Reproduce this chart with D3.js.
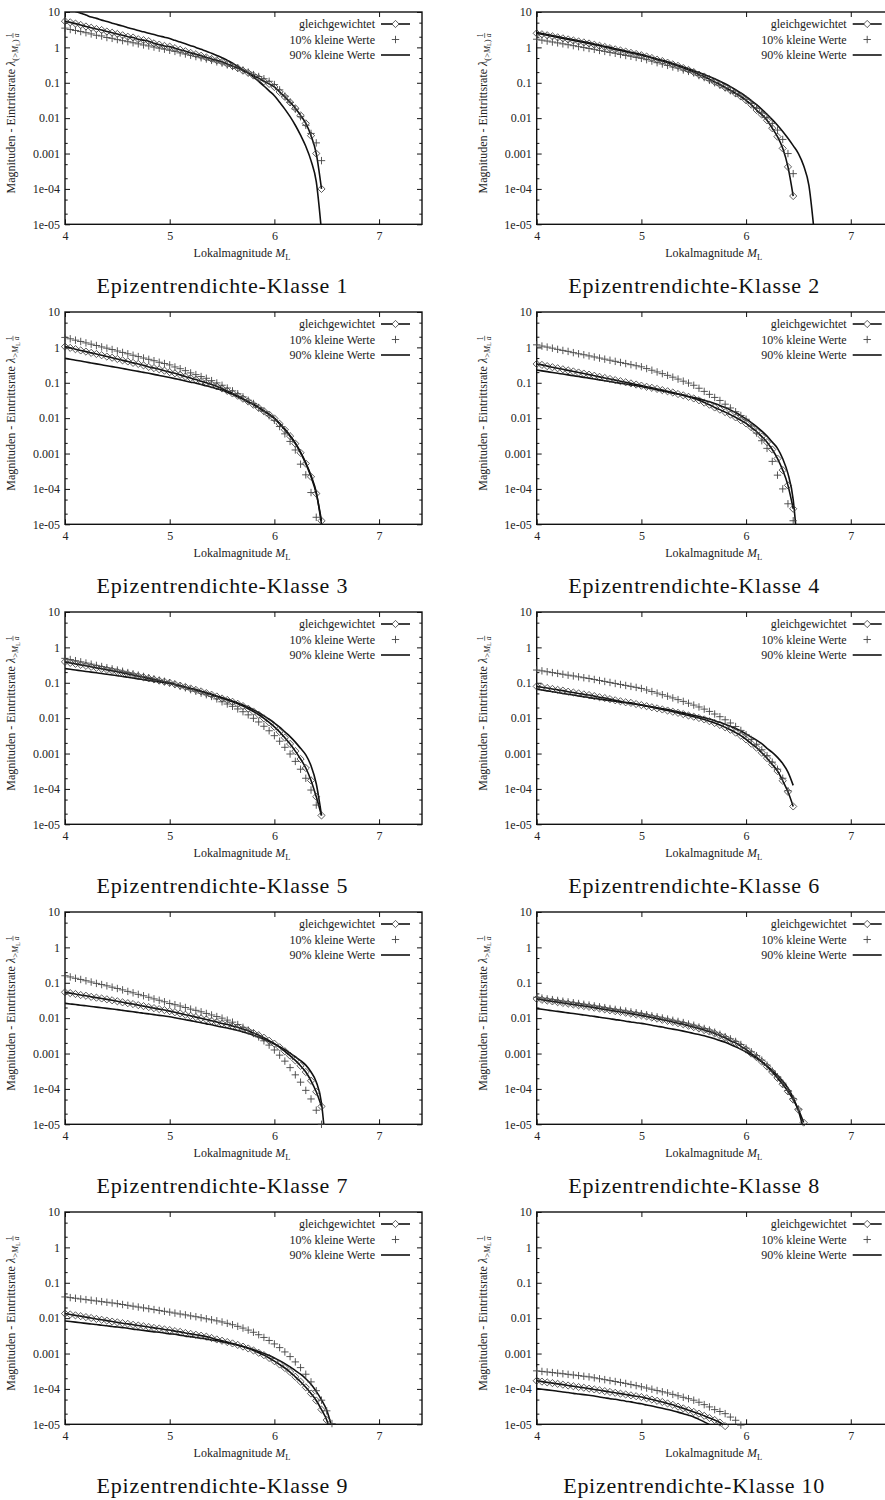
<!DOCTYPE html>
<html>
<head>
<meta charset="utf-8">
<script src="https://cdn.jsdelivr.net/npm/d3@7"></script>
<style>
  body { margin: 0; background: #fff; }
  svg { display: block; font-family: "Liberation Serif", "Times New Roman", serif; }
</style>
</head>
<body>
<svg id="chart" width="885" height="1500"></svg>
<script>
// Lokalmagnitude grid shared by all curves
const magnitudes = [4.00, 4.05, 4.10, 4.15, 4.20, 4.25, 4.30, 4.35, 4.40, 4.45,
  4.50, 4.55, 4.60, 4.65, 4.70, 4.75, 4.80, 4.85, 4.90, 4.95,
  5.00, 5.05, 5.10, 5.15, 5.20, 5.25, 5.30, 5.35, 5.40, 5.45,
  5.50, 5.55, 5.60, 5.65, 5.70, 5.75, 5.80, 5.85, 5.90, 5.95,
  6.00, 6.05, 6.10, 6.15, 6.20, 6.25, 6.30, 6.35, 6.40, 6.45,
  6.50, 6.55, 6.60, 6.65];

const seriesNames = ["gleichgewichtet", "10% kleine Werte", "90% kleine Werte"];
const xTicks = [4, 5, 6, 7];
const yTicks = [1e-5, 1e-4, 1e-3, 1e-2, 1e-1, 1, 10];
const yTickLabels = ["1e-05", "1e-04", "0.001", "0.01", "0.1", "1", "10"];
const yMinorFactors = [2, 5];

// Eintrittsrate per klasse
const k1Gleich = [5.5, 5.1, 4.7, 4.3, 3.9, 3.6, 3.3, 3.1, 2.8, 2.6, 2.4, 2.2, 2.0, 1.9, 1.7, 1.6, 1.5, 1.3, 1.2, 1.1,
  1.05, 0.95, 0.86, 0.78, 0.7, 0.64, 0.58, 0.52, 0.47, 0.43, 0.39, 0.34, 0.3, 0.26, 0.22, 0.19, 0.16, 0.135, 0.11, 0.093,
  0.076, 0.055, 0.04, 0.028, 0.019, 0.012, 0.0071, 0.0032, 0.001, 0.0001];
const k1Klein10 = [3.5, 3.2, 3.0, 2.8, 2.6, 2.4, 2.2, 2.1, 1.9, 1.8, 1.66, 1.55, 1.45, 1.35, 1.26, 1.17, 1.1, 1.02, 0.95, 0.89,
  0.83, 0.77, 0.7, 0.65, 0.6, 0.55, 0.51, 0.47, 0.43, 0.39, 0.36, 0.32, 0.29, 0.26, 0.23, 0.2, 0.17, 0.15, 0.13, 0.11,
  0.089, 0.063, 0.042, 0.028, 0.018, 0.011, 0.0063, 0.0037, 0.002, 0.00063];
const k1Klein90 = [13, 11.7, 10.4, 9.2, 8.2, 7.2, 6.6, 5.9, 5.4, 4.8, 4.4, 4.0, 3.6, 3.3, 3.0, 2.75, 2.5, 2.3, 2.1, 1.94,
  1.78, 1.58, 1.41, 1.26, 1.12, 1.0, 0.88, 0.78, 0.68, 0.59, 0.51, 0.43, 0.36, 0.29, 0.23, 0.19, 0.145, 0.11, 0.081, 0.059,
  0.043, 0.028, 0.018, 0.011, 0.0063, 0.0033, 0.0016, 0.00063, 0.00016, 6.3e-6];

const k2Gleich = [2.5, 2.35, 2.2, 2.06, 1.92, 1.8, 1.68, 1.57, 1.47, 1.38, 1.29, 1.19, 1.11, 1.03, 0.95, 0.88, 0.82, 0.76, 0.7, 0.65,
  0.6, 0.55, 0.5, 0.45, 0.41, 0.37, 0.33, 0.3, 0.26, 0.23, 0.2, 0.17, 0.15, 0.126, 0.106, 0.089, 0.074, 0.062, 0.05, 0.041,
  0.032, 0.024, 0.017, 0.0126, 0.0087, 0.0052, 0.003, 0.0014, 0.00042, 6.3e-5];
const k2Klein10 = [1.7, 1.6, 1.51, 1.42, 1.34, 1.26, 1.19, 1.12, 1.05, 0.99, 0.93, 0.88, 0.82, 0.77, 0.72, 0.68, 0.63, 0.59, 0.56, 0.52,
  0.49, 0.45, 0.41, 0.37, 0.34, 0.31, 0.28, 0.26, 0.23, 0.21, 0.19, 0.16, 0.14, 0.117, 0.1, 0.085, 0.072, 0.06, 0.05, 0.042,
  0.034, 0.026, 0.019, 0.014, 0.0105, 0.0071, 0.0046, 0.0025, 0.001, 0.00027];
const k2Klein90 = [2.63, 2.46, 2.3, 2.15, 2.01, 1.88, 1.76, 1.65, 1.54, 1.44, 1.35, 1.25, 1.16, 1.07, 1.0, 0.92, 0.86, 0.79, 0.73, 0.68,
  0.63, 0.57, 0.52, 0.47, 0.43, 0.39, 0.35, 0.31, 0.28, 0.25, 0.22, 0.195, 0.172, 0.15, 0.13, 0.111, 0.0935, 0.0778, 0.0637, 0.0513,
  0.0406, 0.0315, 0.024, 0.0178, 0.0129, 0.0091, 0.0063, 0.0042, 0.0027, 0.00167, 0.001, 0.00045, 0.000126, 6.3e-6];

const k3Gleich = [1.05, 0.97, 0.89, 0.82, 0.76, 0.7, 0.65, 0.6, 0.55, 0.51, 0.47, 0.43, 0.4, 0.365, 0.34, 0.31, 0.28, 0.26, 0.24, 0.22,
  0.2, 0.185, 0.167, 0.15, 0.136, 0.123, 0.11, 0.1, 0.089, 0.079, 0.069, 0.059, 0.05, 0.043, 0.0355, 0.0295, 0.024, 0.0195, 0.0158, 0.0126,
  0.0098, 0.0069, 0.0047, 0.0031, 0.0019, 0.00105, 0.00052, 0.00022, 7.4e-5, 1.26e-5];
const k3Klein10 = [1.91, 1.75, 1.6, 1.47, 1.34, 1.23, 1.13, 1.03, 0.95, 0.87, 0.79, 0.72, 0.66, 0.6, 0.55, 0.5, 0.46, 0.42, 0.38, 0.35,
  0.32, 0.28, 0.25, 0.22, 0.19, 0.17, 0.15, 0.134, 0.115, 0.099, 0.085, 0.071, 0.059, 0.049, 0.04, 0.032, 0.026, 0.02, 0.0155, 0.0117,
  0.0087, 0.0058, 0.0036, 0.0022, 0.00126, 0.0005, 0.00025, 7.9e-5, 1.58e-5];
const k3Klein90 = [0.49, 0.46, 0.435, 0.41, 0.385, 0.363, 0.342, 0.322, 0.303, 0.286, 0.269, 0.253, 0.238, 0.223, 0.21, 0.197, 0.185, 0.173, 0.161, 0.151,
  0.141, 0.131, 0.121, 0.112, 0.104, 0.097, 0.089, 0.082, 0.075, 0.068, 0.062, 0.054, 0.047, 0.04, 0.034, 0.028, 0.025, 0.02, 0.0162, 0.013,
  0.0101, 0.0071, 0.0049, 0.0032, 0.002, 0.0011, 0.00055, 0.00024, 8e-5, 1e-5];

const k4Gleich = [0.34, 0.32, 0.295, 0.275, 0.257, 0.24, 0.224, 0.209, 0.195, 0.182, 0.17, 0.158, 0.147, 0.137, 0.128, 0.119, 0.111, 0.103, 0.096, 0.089,
  0.083, 0.077, 0.072, 0.067, 0.062, 0.0575, 0.053, 0.048, 0.044, 0.04, 0.036, 0.032, 0.0275, 0.024, 0.02, 0.0174, 0.0148, 0.0126, 0.0105, 0.0087,
  0.0071, 0.0055, 0.0042, 0.003, 0.0021, 0.0013, 0.00072, 0.00034, 0.000126, 2.75e-5];
const k4Klein10 = [1.18, 1.09, 1.02, 0.95, 0.88, 0.82, 0.77, 0.71, 0.66, 0.62, 0.575, 0.536, 0.5, 0.465, 0.433, 0.403, 0.375, 0.349, 0.325, 0.303,
  0.282, 0.252, 0.226, 0.202, 0.181, 0.162, 0.144, 0.127, 0.111, 0.098, 0.085, 0.07, 0.057, 0.047, 0.0385, 0.0316, 0.0248, 0.0194, 0.0152, 0.0119,
  0.0093, 0.006, 0.0038, 0.0023, 0.0014, 0.0006, 0.000245, 0.0001, 3.8e-5, 1.26e-5];
const k4Klein90 = [0.229, 0.217, 0.206, 0.195, 0.185, 0.176, 0.167, 0.158, 0.15, 0.142, 0.135, 0.128, 0.121, 0.114, 0.108, 0.102, 0.097, 0.092, 0.087, 0.082,
  0.078, 0.072, 0.068, 0.063, 0.059, 0.055, 0.051, 0.048, 0.045, 0.041, 0.038, 0.0351, 0.032, 0.029, 0.0259, 0.0229, 0.0199, 0.0171, 0.0144, 0.0118,
  0.0095, 0.0075, 0.0058, 0.0043, 0.0031, 0.0021, 0.0014, 0.00071, 0.00027, 5e-5, 1e-6];

const k5Gleich = [0.39, 0.365, 0.342, 0.321, 0.301, 0.282, 0.264, 0.248, 0.232, 0.218, 0.204, 0.19, 0.177, 0.165, 0.153, 0.143, 0.133, 0.124, 0.115, 0.107,
  0.1, 0.091, 0.083, 0.076, 0.069, 0.063, 0.057, 0.051, 0.046, 0.041, 0.036, 0.0327, 0.029, 0.0254, 0.0219, 0.0185, 0.0154, 0.0125, 0.0099, 0.0076,
  0.0057, 0.0041, 0.0028, 0.00187, 0.00117, 0.0007, 0.00039, 0.000174, 6e-5, 1.78e-5];
const k5Klein10 = [0.49, 0.454, 0.421, 0.39, 0.361, 0.335, 0.31, 0.288, 0.267, 0.247, 0.229, 0.211, 0.194, 0.179, 0.164, 0.151, 0.139, 0.128, 0.118, 0.109,
  0.1, 0.09, 0.08, 0.072, 0.064, 0.0575, 0.051, 0.046, 0.041, 0.035, 0.029, 0.0251, 0.0216, 0.0182, 0.0152, 0.0124, 0.0099, 0.0078, 0.0059, 0.0044,
  0.0032, 0.00223, 0.0015, 0.00097, 0.0006, 0.00036, 0.0002, 9.3e-5, 3.5e-5];
const k5Klein90 = [0.251, 0.24, 0.229, 0.219, 0.209, 0.2, 0.191, 0.182, 0.174, 0.166, 0.158, 0.151, 0.143, 0.136, 0.129, 0.123, 0.117, 0.111, 0.106, 0.1,
  0.0955, 0.088, 0.081, 0.0745, 0.0685, 0.063, 0.0575, 0.052, 0.047, 0.042, 0.038, 0.0343, 0.0305, 0.027, 0.0235, 0.0202, 0.0171, 0.0142, 0.0116, 0.0093,
  0.0073, 0.0056, 0.0041, 0.003, 0.0021, 0.0014, 0.00092, 0.00045, 0.00014, 1.78e-5];

const k6Gleich = [0.079, 0.075, 0.071, 0.067, 0.063, 0.06, 0.056, 0.053, 0.05, 0.047, 0.045, 0.042, 0.039, 0.037, 0.0345, 0.032, 0.03, 0.028, 0.027, 0.025,
  0.0234, 0.0218, 0.0203, 0.0189, 0.0176, 0.0164, 0.0152, 0.0141, 0.013, 0.0119, 0.011, 0.0101, 0.0092, 0.0082, 0.0073, 0.0064, 0.0055, 0.0047, 0.0039, 0.0032,
  0.0025, 0.0019, 0.00146, 0.00105, 0.00074, 0.00049, 0.00032, 0.00017, 8.3e-5, 3.2e-5];
const k6Klein10 = [0.229, 0.217, 0.205, 0.194, 0.184, 0.174, 0.164, 0.156, 0.147, 0.139, 0.132, 0.124, 0.116, 0.109, 0.102, 0.0955, 0.0895, 0.084, 0.079, 0.074,
  0.069, 0.0625, 0.0565, 0.051, 0.046, 0.0417, 0.0373, 0.0334, 0.0298, 0.0264, 0.0234, 0.0207, 0.018, 0.0155, 0.0131, 0.011, 0.009, 0.0073, 0.0058, 0.0045,
  0.0034, 0.0025, 0.00183, 0.00128, 0.00087, 0.00057, 0.00036, 0.0002, 8.9e-5];
const k6Klein90 = [0.066, 0.0625, 0.059, 0.056, 0.053, 0.05, 0.0474, 0.0449, 0.0425, 0.0402, 0.038, 0.0362, 0.0345, 0.0329, 0.0313, 0.0299, 0.0284, 0.0271, 0.0258, 0.0246,
  0.0234, 0.0221, 0.0208, 0.0196, 0.0185, 0.0174, 0.0162, 0.0151, 0.0141, 0.013, 0.012, 0.0111, 0.0103, 0.0094, 0.0085, 0.0076, 0.0067, 0.0059, 0.0051, 0.0043,
  0.0036, 0.0029, 0.0024, 0.0019, 0.0014, 0.00108, 0.00078, 0.00052, 0.0003, 0.000126];

const k7Gleich = [0.054, 0.051, 0.048, 0.045, 0.043, 0.04, 0.038, 0.036, 0.034, 0.032, 0.03, 0.028, 0.0265, 0.025, 0.0233, 0.0219, 0.0205, 0.0192, 0.018, 0.0169,
  0.0158, 0.0147, 0.0136, 0.0125, 0.0116, 0.0107, 0.0099, 0.0092, 0.0084, 0.0078, 0.0071, 0.0066, 0.006, 0.0055, 0.0049, 0.0044, 0.0038, 0.0033, 0.0028, 0.0023,
  0.0019, 0.0015, 0.00116, 0.00087, 0.00064, 0.00045, 0.0003, 0.00017, 8.3e-5, 3.2e-5];
const k7Klein10 = [0.158, 0.146, 0.134, 0.124, 0.114, 0.105, 0.096, 0.089, 0.082, 0.075, 0.069, 0.063, 0.057, 0.052, 0.047, 0.043, 0.039, 0.035, 0.032, 0.029,
  0.026, 0.024, 0.022, 0.02, 0.018, 0.0166, 0.0151, 0.0136, 0.0123, 0.0111, 0.01, 0.0088, 0.0077, 0.0066, 0.0055, 0.0046, 0.0037, 0.00295, 0.00229, 0.00173,
  0.00126, 0.0009, 0.00061, 0.0004, 0.00025, 0.000155, 9.1e-5, 5.2e-5, 2.5e-5, 1.0e-5];
const k7Klein90 = [0.0263, 0.0252, 0.0242, 0.0232, 0.0223, 0.0214, 0.0205, 0.0197, 0.0189, 0.0181, 0.0174, 0.0166, 0.0158, 0.0151, 0.0145, 0.0138, 0.0132, 0.0126, 0.012, 0.0115,
  0.011, 0.0103, 0.0096, 0.009, 0.0085, 0.0079, 0.0074, 0.0069, 0.0065, 0.006, 0.0056, 0.00525, 0.00486, 0.00448, 0.00408, 0.00369, 0.0033, 0.00292, 0.00255, 0.0022,
  0.00187, 0.00156, 0.00129, 0.00103, 0.00081, 0.00063, 0.00047, 0.0003, 0.000158, 4e-5, 1e-6];

const k8Gleich = [0.035, 0.033, 0.0313, 0.0298, 0.0283, 0.0269, 0.0256, 0.0243, 0.0231, 0.022, 0.0209, 0.0198, 0.0187, 0.0177, 0.0167, 0.0158, 0.015, 0.0142, 0.0134, 0.0127,
  0.012, 0.0112, 0.0104, 0.0097, 0.009, 0.0084, 0.0078, 0.0072, 0.0067, 0.0061, 0.0056, 0.0051, 0.0046, 0.0042, 0.0037, 0.0032, 0.0028, 0.0023, 0.002, 0.0016,
  0.0013, 0.001, 0.00079, 0.00059, 0.00043, 0.0003, 0.000205, 0.000135, 8.5e-5, 5e-5, 2.6e-5, 1.12e-5];
const k8Klein10 = [0.039, 0.037, 0.035, 0.0334, 0.0317, 0.0301, 0.0287, 0.0272, 0.0259, 0.0246, 0.0234, 0.0222, 0.0209, 0.0198, 0.0187, 0.0177, 0.0168, 0.0159, 0.015, 0.0142,
  0.0134, 0.0125, 0.0116, 0.0109, 0.0101, 0.0094, 0.0087, 0.0081, 0.0075, 0.0068, 0.0063, 0.0056, 0.0051, 0.0046, 0.004, 0.0035, 0.003, 0.0026, 0.0022, 0.0018,
  0.00142, 0.00112, 0.00087, 0.00065, 0.00047, 0.00032, 0.00022, 0.000145, 9e-5, 5.3e-5, 2.7e-5];
const k8Klein90 = [0.0186, 0.0178, 0.017, 0.0162, 0.0155, 0.0148, 0.0141, 0.0135, 0.0129, 0.0123, 0.0117, 0.0112, 0.0106, 0.0101, 0.0096, 0.0091, 0.0087, 0.0082, 0.0078, 0.0074,
  0.0071, 0.0067, 0.0063, 0.0059, 0.0056, 0.0052, 0.0049, 0.0046, 0.0043, 0.004, 0.0037, 0.00344, 0.00317, 0.00289, 0.00261, 0.00233, 0.00207, 0.00181, 0.00156, 0.00132,
  0.00111, 0.00091, 0.00073, 0.00058, 0.00044, 0.00033, 0.00024, 0.000166, 0.000105, 5.6e-5, 2.4e-5, 7e-6];

const k9Gleich = [0.0135, 0.0127, 0.012, 0.0114, 0.0107, 0.0101, 0.0095, 0.009, 0.0085, 0.008, 0.0076, 0.0072, 0.0069, 0.0065, 0.0062, 0.0059, 0.0056, 0.0053, 0.0051, 0.0048,
  0.0046, 0.0043, 0.0041, 0.0038, 0.0036, 0.0034, 0.0032, 0.003, 0.00275, 0.0025, 0.0023, 0.00211, 0.00193, 0.00175, 0.00157, 0.00139, 0.00122, 0.00105, 0.0009, 0.00075,
  0.00061, 0.00049, 0.00039, 0.0003, 0.00022, 0.00016, 0.000111, 7.4e-5, 4.7e-5, 2.6e-5, 1.32e-5, 4e-6];
const k9Klein10 = [0.0398, 0.0381, 0.0365, 0.0349, 0.0334, 0.032, 0.0306, 0.0293, 0.0281, 0.0269, 0.0257, 0.0243, 0.023, 0.0218, 0.0206, 0.0195, 0.0185, 0.0175, 0.0165, 0.0156,
  0.0148, 0.0139, 0.0131, 0.0124, 0.0116, 0.011, 0.0103, 0.0096, 0.009, 0.0084, 0.0078, 0.00714, 0.00652, 0.00587, 0.00524, 0.0046, 0.00399, 0.0034, 0.00285, 0.00234,
  0.00187, 0.00147, 0.00111, 0.00082, 0.00058, 0.0004, 0.00026, 0.000158, 8.9e-5, 4.8e-5, 2.4e-5, 1.05e-5];
const k9Klein90 = [0.0083, 0.008, 0.0077, 0.0074, 0.0071, 0.0068, 0.0066, 0.0063, 0.0061, 0.0058, 0.0056, 0.0054, 0.0052, 0.0049, 0.0047, 0.0045, 0.0043, 0.0041, 0.004, 0.0038,
  0.0036, 0.0035, 0.0033, 0.0031, 0.003, 0.00285, 0.0027, 0.00256, 0.0024, 0.0023, 0.00214, 0.002, 0.00187, 0.00173, 0.00158, 0.00144, 0.00129, 0.00115, 0.00101, 0.00088,
  0.00075, 0.00063, 0.00052, 0.00042, 0.00033, 0.00026, 0.000194, 0.000135, 8.5e-5, 4.9e-5, 2.5e-5, 7.9e-6];

const k10Gleich = [1.7e-4, 1.61e-4, 1.53e-4, 1.46e-4, 1.39e-4, 1.32e-4, 1.25e-4, 1.19e-4, 1.13e-4, 1.08e-4, 1.02e-4, 9.68e-5, 9.16e-5, 8.67e-5, 8.2e-5, 7.76e-5, 7.35e-5, 6.95e-5, 6.58e-5, 6.22e-5,
  5.89e-5, 5.43e-5, 5.01e-5, 4.62e-5, 4.27e-5, 3.89e-5, 3.55e-5, 3.16e-5, 2.82e-5, 2.51e-5, 2.24e-5, 2.0e-5, 1.74e-5, 1.51e-5, 1.32e-5, 1.12e-5, 8.9e-6];
const k10Klein10 = [3.24e-4, 3.12e-4, 3.01e-4, 2.9e-4, 2.79e-4, 2.69e-4, 2.58e-4, 2.48e-4, 2.38e-4, 2.28e-4, 2.19e-4, 2.06e-4, 1.94e-4, 1.83e-4, 1.72e-4, 1.62e-4, 1.52e-4, 1.43e-4, 1.33e-4, 1.24e-4,
  1.15e-4, 1.06e-4, 9.8e-5, 9.0e-5, 8.3e-5, 7.7e-5, 7.0e-5, 6.4e-5, 5.8e-5, 5.3e-5, 4.8e-5, 4.2e-5, 3.6e-5, 3.1e-5, 2.6e-5, 2.3e-5, 2.0e-5, 1.6e-5, 1.3e-5, 9.5e-6];
const k10Klein90 = [1.02e-4, 9.8e-5, 9.4e-5, 9.0e-5, 8.6e-5, 8.2e-5, 7.9e-5, 7.5e-5, 7.2e-5, 6.9e-5, 6.6e-5, 6.3e-5, 5.9e-5, 5.6e-5, 5.3e-5, 5.1e-5, 4.8e-5, 4.5e-5, 4.3e-5, 4.0e-5,
  3.8e-5, 3.5e-5, 3.3e-5, 3.05e-5, 2.83e-5, 2.63e-5, 2.41e-5, 2.21e-5, 2.0e-5, 1.81e-5, 1.62e-5, 1.38e-5, 1.17e-5, 9.8e-6, 7.9e-6];

const klassen = [
  { title: "Epizentrendichte-Klasse 1", paren: true, series: [k1Gleich, k1Klein10, k1Klein90] },
  { title: "Epizentrendichte-Klasse 2", paren: true, series: [k2Gleich, k2Klein10, k2Klein90] },
  { title: "Epizentrendichte-Klasse 3", paren: false, series: [k3Gleich, k3Klein10, k3Klein90] },
  { title: "Epizentrendichte-Klasse 4", paren: false, series: [k4Gleich, k4Klein10, k4Klein90] },
  { title: "Epizentrendichte-Klasse 5", paren: false, series: [k5Gleich, k5Klein10, k5Klein90] },
  { title: "Epizentrendichte-Klasse 6", paren: false, series: [k6Gleich, k6Klein10, k6Klein90] },
  { title: "Epizentrendichte-Klasse 7", paren: false, series: [k7Gleich, k7Klein10, k7Klein90] },
  { title: "Epizentrendichte-Klasse 8", paren: false, series: [k8Gleich, k8Klein10, k8Klein90] },
  { title: "Epizentrendichte-Klasse 9", paren: false, series: [k9Gleich, k9Klein10, k9Klein90] },
  { title: "Epizentrendichte-Klasse 10", paren: false, series: [k10Gleich, k10Klein10, k10Klein90] }
];

const svg = d3.select("#chart");
const plotW = 357, plotH = 212.3;
const colLeft = [65, 536.7];
const rowTop = 12, rowStep = 300;
const ink = "#111";
const fs = 12;

const diamond = r => `M0,${-r}L${r},0L0,${r}L${-r},0Z`;
const plus = r => `M${-r},0H${r}M0,${-r}V${r}`;

function styleAxis(sel) {
  sel.attr("font-family", null).attr("font-size", fs);
  sel.select(".domain").remove();
  sel.selectAll(".tick line").attr("stroke", ink).attr("stroke-width", 1);
  sel.selectAll(".tick text").attr("fill", "#222");
}

klassen.forEach((k, i) => {
  const left = colLeft[i % 2];
  const top = rowTop + Math.floor(i / 2) * rowStep;

  const x = d3.scaleLinear().domain([4, 7.41]).range([left, left + plotW]);
  const y = d3.scaleLog().domain([1e-5, 10]).range([top + plotH, top]);

  const g = svg.append("g");

  g.append("clipPath").attr("id", "clip" + i)
    .append("rect").attr("x", left).attr("y", top).attr("width", plotW).attr("height", plotH);

  // minor ticks (log)
  const minor = [];
  yTicks.slice(0, -1).forEach(t => yMinorFactors.forEach(f => minor.push(t * f)));

  g.append("g").attr("transform", `translate(${left},0)`)
    .call(d3.axisLeft(y).tickValues(yTicks).tickFormat((d, j) => yTickLabels[j]).tickSize(-5).tickPadding(5))
    .call(styleAxis);
  g.append("g").attr("transform", `translate(${left},0)`)
    .call(d3.axisLeft(y).tickValues(minor).tickFormat("").tickSize(-2.7))
    .call(styleAxis);
  g.append("g").attr("transform", `translate(${left + plotW},0)`)
    .call(d3.axisRight(y).tickValues(yTicks).tickFormat("").tickSize(-5))
    .call(styleAxis);
  g.append("g").attr("transform", `translate(${left + plotW},0)`)
    .call(d3.axisRight(y).tickValues(minor).tickFormat("").tickSize(-2.7))
    .call(styleAxis);
  g.append("g").attr("transform", `translate(0,${top + plotH})`)
    .call(d3.axisBottom(x).tickValues(xTicks).tickFormat(d3.format("d")).tickSize(-5).tickPadding(7))
    .call(styleAxis);
  g.append("g").attr("transform", `translate(0,${top})`)
    .call(d3.axisTop(x).tickValues(xTicks).tickFormat("").tickSize(-5))
    .call(styleAxis);

  g.append("rect")
    .attr("x", left).attr("y", top).attr("width", plotW).attr("height", plotH)
    .attr("fill", "none").attr("stroke", ink).attr("stroke-width", 1.4);

  const line = d3.line().x(d => x(d[0])).y(d => y(d[1])).curve(d3.curveMonotoneX);
  const pts = vals => vals.map((v, j) => [magnitudes[j], v]);
  const visible = d => d[1] >= 0.85e-5 && d[1] <= 10.5;

  const [gleich, klein10, klein90] = k.series;

  const curves = g.append("g").attr("clip-path", `url(#clip${i})`);
  curves.append("path").datum(pts(klein90)).attr("d", line)
    .attr("fill", "none").attr("stroke", ink).attr("stroke-width", 1.6);
  curves.append("path").datum(pts(gleich)).attr("d", line)
    .attr("fill", "none").attr("stroke", ink).attr("stroke-width", 1.6);

  g.append("g").selectAll("path").data(pts(gleich).filter(visible)).join("path")
    .attr("transform", d => `translate(${x(d[0])},${y(d[1])})`)
    .attr("d", diamond(3.6)).attr("fill", "none").attr("stroke", "#333").attr("stroke-width", 0.8);
  g.append("g").selectAll("path").data(pts(klein10).filter(visible)).join("path")
    .attr("transform", d => `translate(${x(d[0])},${y(d[1])})`)
    .attr("d", plus(3.7)).attr("fill", "none").attr("stroke", "#444").attr("stroke-width", 0.9);

  // legend
  const lg = g.append("g").attr("font-size", fs).attr("fill", "#222");
  seriesNames.forEach((name, j) => {
    const cy = top + 12 + j * 15.5;
    lg.append("text").attr("x", left + 310).attr("y", cy + 4).attr("text-anchor", "end").text(name);
    const sx0 = left + 316, sx1 = left + 345, mx = (sx0 + sx1) / 2;
    if (j !== 1) {
      lg.append("line").attr("x1", sx0).attr("x2", sx1).attr("y1", cy).attr("y2", cy)
        .attr("stroke", ink).attr("stroke-width", 1.6);
    }
    if (j === 0) {
      lg.append("path").attr("transform", `translate(${mx},${cy})`).attr("d", diamond(3.6))
        .attr("fill", "#fff").attr("stroke", "#333").attr("stroke-width", 0.8);
    }
    if (j === 1) {
      lg.append("path").attr("transform", `translate(${mx},${cy})`).attr("d", plus(3.7))
        .attr("fill", "none").attr("stroke", "#444").attr("stroke-width", 0.9);
    }
  });

  // x label
  const xl = g.append("text").attr("x", left + 177).attr("y", top + 245)
    .attr("text-anchor", "middle").attr("font-size", fs).attr("fill", "#222");
  xl.append("tspan").text("Lokalmagnitude ");
  xl.append("tspan").attr("font-style", "italic").text("M");
  xl.append("tspan").attr("font-size", 8.5).attr("dy", 3).text("L");

  // y label
  const yg = g.append("g").attr("transform", `translate(${left - 50},${top + 100}) rotate(-90)`);
  const yl = yg.append("text").attr("x", 0).attr("y", 0).attr("font-size", fs).attr("fill", "#222");
  yl.append("tspan").text("Magnituden - Eintrittsrate ");
  yl.append("tspan").attr("font-style", "italic").text("λ");
  const sub = k.paren ? ["(>", ")"] : [">", ""];
  yl.append("tspan").attr("font-size", 8.5).attr("dy", 3).text(sub[0]);
  yl.append("tspan").attr("font-size", 8.5).attr("font-style", "italic").text("M");
  yl.append("tspan").attr("font-size", 6).attr("dy", 1.5).text("L");
  yl.append("tspan").attr("font-size", 8.5).attr("dy", -1.5).text(sub[1]);
  const len = yl.node().getComputedTextLength();
  const fx = len + 4;
  const total = fx + 5;
  yl.attr("x", -total / 2);
  yg.append("text").attr("x", -total / 2 + fx).attr("y", -3.5).attr("text-anchor", "middle")
    .attr("font-size", 7.5).attr("fill", "#222").text("1");
  yg.append("line").attr("x1", -total / 2 + fx - 2.5).attr("x2", -total / 2 + fx + 2.5)
    .attr("y1", -2).attr("y2", -2).attr("stroke", "#222").attr("stroke-width", 0.6);
  yg.append("text").attr("x", -total / 2 + fx).attr("y", 4).attr("text-anchor", "middle")
    .attr("font-size", 7.5).attr("font-style", "italic").attr("fill", "#222").text("a");

  // panel caption
  g.append("text").attr("x", left + 157).attr("y", top + 281)
    .attr("text-anchor", "middle").attr("font-size", 22).attr("fill", "#111")
    .attr("textLength", k.title.length > 25 ? 261 : 251).attr("lengthAdjust", "spacing")
    .text(k.title);
});
</script>
</body>
</html>
